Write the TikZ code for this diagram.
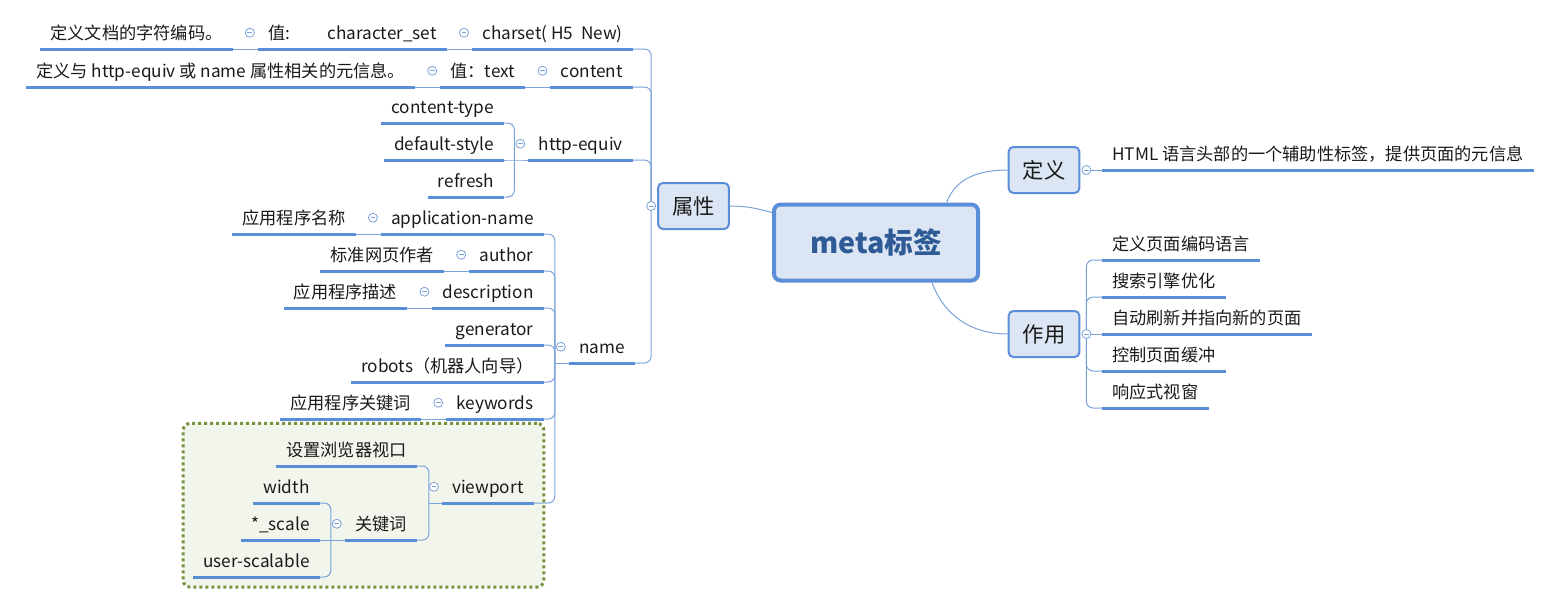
\documentclass[tikz,border=0pt]{standalone}
\usepackage{fontspec}
\setmainfont{Noto Sans CJK SC}
\usetikzlibrary{fit,backgrounds}
\definecolor{mainblue}{HTML}{5A8ED8}
\definecolor{linkblue}{HTML}{7BA2DA}
\definecolor{boxfill}{HTML}{DCE5F3}
\definecolor{titleblue}{HTML}{2E5B95}
\definecolor{frameolive}{HTML}{76923C}
\definecolor{framefill}{HTML}{F2F5EB}
\definecolor{inkgray}{HTML}{1A1A1A}
\tikzset{
  lt/.style={anchor=south east, inner xsep=7.5pt, inner ysep=5.7pt, text height=11pt, text depth=1.6pt,
    font=\fontsize{12.9}{15}\selectfont, text=inkgray},
  rt/.style={lt, anchor=south west},
  uline/.style={draw=mainblue, line width=2.25pt},
  link/.style={draw=linkblue, line width=0.75pt, rounded corners=5pt},
  fold/.style={circle, draw=linkblue, fill=white, line width=0.6pt, minimum size=6.75pt, inner sep=0pt,
    path picture={\draw[linkblue, line width=0.6pt] ([xshift=1.6pt]path picture bounding box.west) -- ([xshift=-1.6pt]path picture bounding box.east);}},
  subbox/.style={draw=mainblue, fill=boxfill, line width=1.5pt, rounded corners=3.5pt, minimum width=53pt,
    minimum height=34.5pt, font=\fontsize{16}{18}\selectfont, text=inkgray},
  rootbox/.style={draw=mainblue, fill=boxfill, line width=3pt, rounded corners=5pt, minimum width=153pt,
    minimum height=57pt, font=\fontsize{21.5}{24}\selectfont\bfseries, text=titleblue},
  vpframe/.style={draw=frameolive, fill=framefill, line width=2.25pt, dash pattern=on 2.25pt off 2.25pt,
    rounded corners=5pt, inner sep=7.5pt}
}
\begin{document}
\begin{tikzpicture}[x=0.75pt, y=-0.75pt]
\useasboundingbox (0,0) rectangle (1555,604);
% main topics
\node[rootbox] (meta) at (876,242.5) {meta标签};
\node[subbox] (attr) at (693.5,206) {属性};
\node[subbox] (def) at (1044,170) {定义};
\node[subbox] (use) at (1044,334) {作用};
\draw[link] (attr.east) to[out=0, in=165] ([yshift=-7.5pt]meta.north west);
\draw[link] ([xshift=53pt]meta.north) to[out=70, in=180] (def.west);
\draw[link] ([xshift=42pt]meta.south) to[out=-70, in=180] (use.west);

% right side
\node[rt] (defd) at (1102,170) {HTML 语言头部的一个辅助性标签，提供页面的元信息};
\foreach \t [count=\i] in {定义页面编码语言, 搜索引擎优化, 自动刷新并指向新的页面, 控制页面缓冲, 响应式视窗}
  \node[rt] (use\i) at (1102,223+37*\i) {\t};

% left side: charset, content
\node[lt] (charset) at (633,49) {charset( H5\ \ New)};
\node[lt] (charval) at ([xshift=-18.75pt]charset.south west) {值:\hspace{28pt}character\_set};
\node[lt] (chardesc) at ([xshift=-18.75pt]charval.south west) {定义文档的字符编码。};
\node[lt] (content) at (633,87) {content};
\node[lt] (contval) at ([xshift=-18.75pt]content.south west) {值：text};
\node[lt] (contdesc) at ([xshift=-18.75pt]contval.south west) {定义与 http-equiv 或 name 属性相关的元信息。};

% http-equiv
\node[lt] (httpeq) at (633,160) {http-equiv};
\coordinate (hb) at ([xshift=-10.5pt]httpeq.south west);
\node[lt, xshift=-7.5pt] (ctype) at (hb |- 0,123) {content-type};
\node[lt, xshift=-7.5pt] (dstyle) at (hb) {default-style};
\node[lt, xshift=-7.5pt] (refresh) at (hb |- 0,197) {refresh};

% name
\node[lt] (name) at (635,363) {name};
\coordinate (nb) at ([xshift=-10.5pt]name.south west);
\node[lt, xshift=-8.25pt] (appname) at (nb |- 0,234) {application-name};
\node[lt] (appnamed) at ([xshift=-18.75pt]appname.south west) {应用程序名称};
\node[lt, xshift=-8.25pt] (author) at (nb |- 0,271) {author};
\node[lt] (authord) at ([xshift=-18.75pt]author.south west) {标准网页作者};
\node[lt, xshift=-8.25pt] (desc) at (nb |- 0,308) {description};
\node[lt] (descd) at ([xshift=-18.75pt]desc.south west) {应用程序描述};
\node[lt, xshift=-8.25pt] (gen) at (nb |- 0,345) {generator};
\node[lt, xshift=-8.25pt] (robots) at (nb |- 0,382) {robots（机器人向导）};
\node[lt, xshift=-8.25pt] (kw) at (nb |- 0,419) {keywords};
\node[lt] (kwd) at ([xshift=-18.75pt]kw.south west) {应用程序关键词};

% viewport
\node[lt, xshift=-15.75pt] (vp) at (nb |- 0,503) {viewport};
\coordinate (vb) at ([xshift=-9.75pt]vp.south west);
\node[lt, xshift=-9pt] (vpd) at (vb |- 0,466) {设置浏览器视口};
\node[lt, xshift=-9pt] (vkey) at (vb |- 0,540) {关键词};
\coordinate (kb) at ([xshift=-10.5pt]vkey.south west);
\node[lt, xshift=-8.25pt] (width) at (kb |- 0,503) {width};
\node[lt, xshift=-8.25pt] (scale) at (kb) {*\_scale};
\node[lt, xshift=-8.25pt] (usersc) at (kb |- 0,577) {user-scalable};
\begin{scope}[on background layer]
  \node[vpframe, fit=(vp)(vpd)(usersc)] (vpbox) {};
\end{scope}

% connectors
\foreach \c in {charset,content,httpeq,name}
  \draw[link] ([xshift=-4.5pt]attr.west) |- (\c.south east);
\draw[link] ([xshift=4.5pt]def.east) -- (defd.south west);
\foreach \i in {1,2,4,5}
  \draw[link] ([xshift=4.5pt]use.east) |- (use\i.south west);
\draw[link] ([xshift=4.5pt]use.east) -- (use3.south west);
\foreach \a/\b in {charset/charval, charval/chardesc, content/contval, contval/contdesc,
                   appname/appnamed, author/authord, desc/descd, kw/kwd}
  \draw[link] (\a.south west) -- (\b.south east);
\draw[link] (httpeq.south west) -- (hb) -- (dstyle.south east);
\foreach \c in {ctype,refresh}
  \draw[link] (hb) |- (\c.south east);
\draw[link] (name.south west) -- (nb);
\foreach \c in {appname,author,desc,gen,robots,kw,vp}
  \draw[link] (nb) |- (\c.south east);
\draw[link] (vp.south west) -- (vb);
\foreach \c in {vpd,vkey}
  \draw[link] (vb) |- (\c.south east);
\draw[link] (vkey.south west) -- (kb) -- (scale.south east);
\foreach \c in {width,usersc}
  \draw[link] (kb) |- (\c.south east);

% underlines
\foreach \n in {defd,use1,use2,use3,use4,use5,charset,charval,chardesc,content,contval,contdesc,
                httpeq,ctype,dstyle,refresh,name,appname,appnamed,author,authord,desc,descd,
                gen,robots,kw,kwd,vp,vpd,vkey,width,scale,usersc}
  \draw[uline] (\n.south west) -- (\n.south east);

% fold buttons
\node[fold] at ([xshift=-4.5pt]attr.west) {};
\node[fold] at ([xshift=4.5pt]def.east) {};
\node[fold] at ([xshift=4.5pt]use.east) {};
\foreach \n in {charset,charval,content,contval,httpeq,name,appname,author,desc,kw,vp,vkey}
  \node[fold] at ([xshift=-6pt]\n.west) {};
\end{tikzpicture}
\end{document}
